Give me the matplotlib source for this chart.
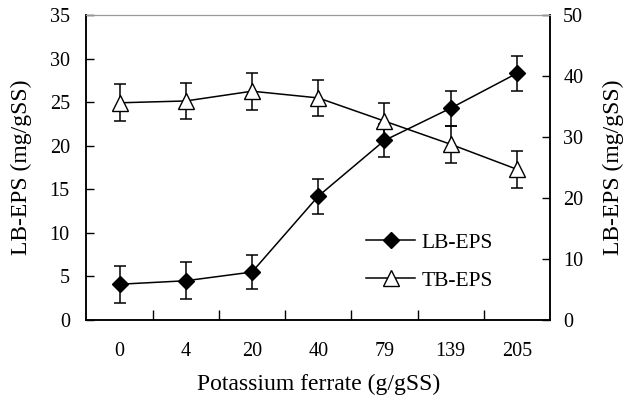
import matplotlib
matplotlib.use("Agg")
from matplotlib import pyplot as plt
from matplotlib.lines import Line2D
import numpy as np

plt.rcParams['font.family'] = ['Liberation Serif', 'DejaVu Serif']

doses = ["0", "4", "20", "40", "79", "139", "205"]
lb_eps = [4.1, 4.5, 5.5, 14.2, 20.6, 24.3, 28.3]
lb_err = [2.1, 2.1, 1.9, 2.0, 1.9, 2.0, 2.0]
tb_eps = [35.6, 35.9, 37.5, 36.4, 32.6, 28.8, 24.7]
tb_err = [3.0, 3.0, 3.0, 3.0, 3.0, 3.0, 3.0]

x = np.arange(len(doses))

fig = plt.figure(figsize=(6.24, 4.04), dpi=100)
ax1 = fig.add_axes([0.1386, 0.208, 0.7428, 0.755])
ax2 = ax1.twinx()

ax1.errorbar(x, lb_eps, yerr=lb_err, color='black', marker='D', markersize=8,
             mfc='black', lw=1.1, elinewidth=1.1, capsize=4.5, capthick=1.1)
ax2.errorbar(x, tb_eps, yerr=tb_err, color='black', marker='^', markersize=11,
             mfc='white', mec='black', lw=1.1, elinewidth=1.1, capsize=4.5,
             capthick=1.1)

ax1.set_xlim(-0.5, len(doses) - 0.5)
ax1.set_ylim(0, 35)
ax2.set_ylim(0, 50)
ax1.set_yticks(np.arange(0, 36, 5))
ax2.set_yticks(np.arange(0, 51, 10))

ax1.set_xticks(x)
ax1.set_xticklabels(doses)
ax1.set_xticks(x[:-1] + 0.5, minor=True)
ax1.tick_params(axis='x', which='major', length=0, pad=16, labelsize=14.5)
ax1.tick_params(axis='x', which='minor', direction='in', length=7, width=1)
ax1.tick_params(axis='y', direction='in', length=6, width=1, labelsize=14.5, pad=12)
ax2.tick_params(axis='y', direction='in', length=6, width=1, labelsize=14.5, pad=9.5)

for a in (ax1, ax2):
    a.spines['top'].set_color('#999999')
    for s in ('left', 'right', 'bottom'):
        a.spines[s].set_linewidth(1.1)

ax1.set_xlabel("Potassium ferrate (g/gSS)", fontsize=17, labelpad=9)
ax1.set_ylabel("LB-EPS (mg/gSS)", fontsize=17, labelpad=13)
ax2.set_ylabel("LB-EPS (mg/gSS)", fontsize=17, labelpad=14)

h1 = Line2D([], [], color='black', marker='D', markersize=8, mfc='black', lw=1.1)
h2 = Line2D([], [], color='black', marker='^', markersize=11, mfc='white',
            mec='black', lw=1.1)
ax2.legend([h1, h2], ["LB-EPS", "TB-EPS"], loc='upper left',
           bbox_to_anchor=(0.561, 0.35), frameon=False, fontsize=15.5,
           handlelength=2.3, labelspacing=0.85, handletextpad=0.3)

plt.savefig('out.png', dpi=100)
